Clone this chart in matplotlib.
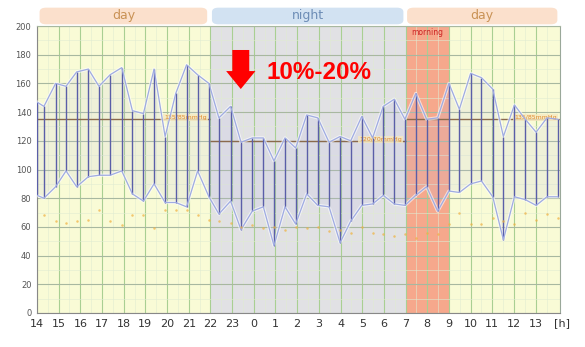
import numpy as np
import matplotlib
matplotlib.use("Agg")
import matplotlib.pyplot as plt
from matplotlib.patches import FancyBboxPatch, FancyArrow
from matplotlib import transforms

# measurement times in hours from 14:00 (values > 24 are next day)
times = [14.0, 14.32, 14.86, 15.34, 15.83, 16.37, 16.86, 17.37, 17.91, 18.40,
         18.91, 19.40, 19.91, 20.40, 20.90, 21.41, 21.93, 22.39, 22.93, 23.41,
         23.93, 24.44, 24.93, 25.44, 25.93, 26.44, 26.95, 27.47, 27.98, 28.47,
         28.98, 29.48, 29.97, 30.48, 30.97, 31.47, 31.97, 32.48, 33.00, 33.48,
         34.00, 34.50, 35.02, 35.51, 36.02, 36.52, 37.02, 37.52, 38.02]
systolic = [147, 144, 160, 158, 168, 170, 158, 166, 171, 141,
            139, 170, 123, 153, 173, 166, 160, 136, 144, 119,
            122, 122, 106, 122, 115, 138, 136, 119, 123, 120,
            137, 122, 144, 149, 135, 153, 135, 136, 160, 142,
            167, 164, 156, 123, 145, 135, 126, 136, 135]
diastolic = [82, 80, 88, 99, 88, 95, 96, 96, 99, 83,
             78, 90, 77, 77, 74, 99, 81, 69, 78, 58,
             71, 74, 47, 74, 62, 83, 75, 74, 49, 64,
             75, 76, 82, 76, 75, 82, 88, 71, 85, 84,
             90, 92, 81, 51, 81, 79, 75, 81, 81]
pulse = [np.nan, 68, 64, 63, 64, 65, 72, 64, 61, 68,
         68, 59, 72, 72, 72, 68, 65, 64, 63, 60,
         61, 59, 60, 58, 60, 59, 60, 57, 58, 56,
         60, 56, 55, 54, 55, 52, 56, 55, 62, 70,
         62, 62, 66, 64, 62, 70, 65, 69, 66]

hour_ticks = list(range(14, 38))
hour_labels = [str(h % 24) for h in hour_ticks]

# periods (start, end) in hours
day1 = (14, 22)
night = (22, 31)
morning = (31, 33)
day2 = (33, 38.12)
ref_day = 135
ref_night = 120

fig = plt.figure(figsize=(5.85, 3.47), dpi=100)
ax = fig.add_axes([0.0632, 0.098, 0.8940, 0.827])
ax.set_xlim(14, 38.12)
ax.set_ylim(0, 200)

# background regions
ax.axvspan(*day1, color="#f9fbd6", zorder=0, lw=0)
ax.axvspan(*night, color="#e1e1e4", zorder=0, lw=0)
ax.axvspan(*morning, color="#f6a88c", zorder=0, lw=0)
ax.axvspan(*day2, color="#f9fbd6", zorder=0, lw=0)

# grid
ax.set_xticks(hour_ticks)
ax.set_xticks(np.arange(14.5, 38, 1.0), minor=True)
ax.set_yticks(range(0, 201, 20))
ax.set_yticks(range(10, 200, 20), minor=True)
ax.grid(which="major", axis="x", color="#a9cf92", lw=0.8, zorder=1)
ax.grid(which="major", axis="y", color="#a8b8a0", lw=0.8, zorder=1)
ax.grid(which="minor", color="#e0ebd2", lw=0.4, zorder=1)
ax.set_axisbelow(True)

ax.set_xticklabels(hour_labels, fontsize=8, color="#333333")
ax.set_yticklabels([str(v) for v in range(0, 201, 20)], fontsize=6, color="#555555")
ax.tick_params(which="both", length=0, pad=4)
ax.annotate("[h]", xy=(38.2, 0), xycoords=("data", "axes fraction"),
            xytext=(0, -4), textcoords="offset points", fontsize=8,
            color="#333333", ha="center", va="top", annotation_clip=False)
for side in ["left", "bottom"]:
    ax.spines[side].set_color("#888888")
ax.spines["right"].set_color("#9aa89a")
ax.spines["top"].set_color("#a8b8a0")
ax.spines["top"].set_linewidth(0.8)

# reference lines
ax.hlines(ref_day, day1[0], day1[1], color="#8a6a4c", lw=1, zorder=3)
ax.hlines(ref_day, night[1], day2[1], color="#8a6a4c", lw=1, zorder=3)
ax.hlines(ref_night, night[0], night[1], color="#8a6a4c", lw=1, zorder=3)
lab = dict(fontsize=4.5, color="#e08a30", va="center", ha="center", zorder=4,
           bbox=dict(boxstyle="square,pad=0.15", fc="#f6e9c0", ec="none", alpha=0.8))
ax.text(20.85, ref_day + 1, "135/85mmHg", **lab)
ax.text(29.85, ref_night + 1, "120/70mmHg", **lab)
ax.text(37.0, ref_day + 1, "135/85mmHg", **lab)

# blood pressure readings
ax.fill_between(times, diastolic, systolic, color="#b8b8ea", alpha=0.15, lw=0, zorder=2)
ax.vlines(times, diastolic, systolic, color="#5a5ea8", lw=1.0, zorder=4)
for series in (systolic, diastolic):
    ax.plot(times, series, color="white", lw=2.4, alpha=0.6, zorder=3)
    ax.plot(times, series, color="#9fabe2", lw=0.9, zorder=5)
ax.plot(times, pulse, ls="none", marker="o", ms=1.8, color="#f0b040",
        alpha=0.7, mec="none", zorder=5)

ax.text(32, 195.5, "morning", fontsize=5.5, color="#cc2222", ha="center", va="center", zorder=6)

# header bands above the plot
trans = transforms.blended_transform_factory(ax.transData, ax.transAxes)
bands = [(14.12, 21.85, "day", "#fbe0cc", "#c99255"),
         (22.07, 30.9, "night", "#d2e2f2", "#6d8db6"),
         (31.07, 38.0, "day", "#fbe0cc", "#c99255")]
for x0, x1, name, fc, tc in bands:
    box = FancyBboxPatch((x0, 1.006), x1 - x0, 0.058, transform=trans,
                         boxstyle="round,pad=0,rounding_size=0.3",
                         fc=fc, ec="none", clip_on=False, mutation_aspect=0.05)
    ax.add_patch(box)
    ax.text((x0 + x1) / 2, 1.035, name, transform=trans, fontsize=9, color=tc,
            ha="center", va="center", clip_on=False)

# red annotation
ax.add_patch(FancyArrow(23.4, 183.3, 0, -27.2, width=0.78, head_width=1.35,
                        head_length=12.5, length_includes_head=True,
                        color="#ff0000", lw=0, zorder=7))
ax.text(27.0, 167.5, "10%-20%", fontsize=17.5, fontweight="bold",
        family="Liberation Sans", color="#ff0000", ha="center", va="center", zorder=7)

fig.savefig("out.png", dpi=100)
